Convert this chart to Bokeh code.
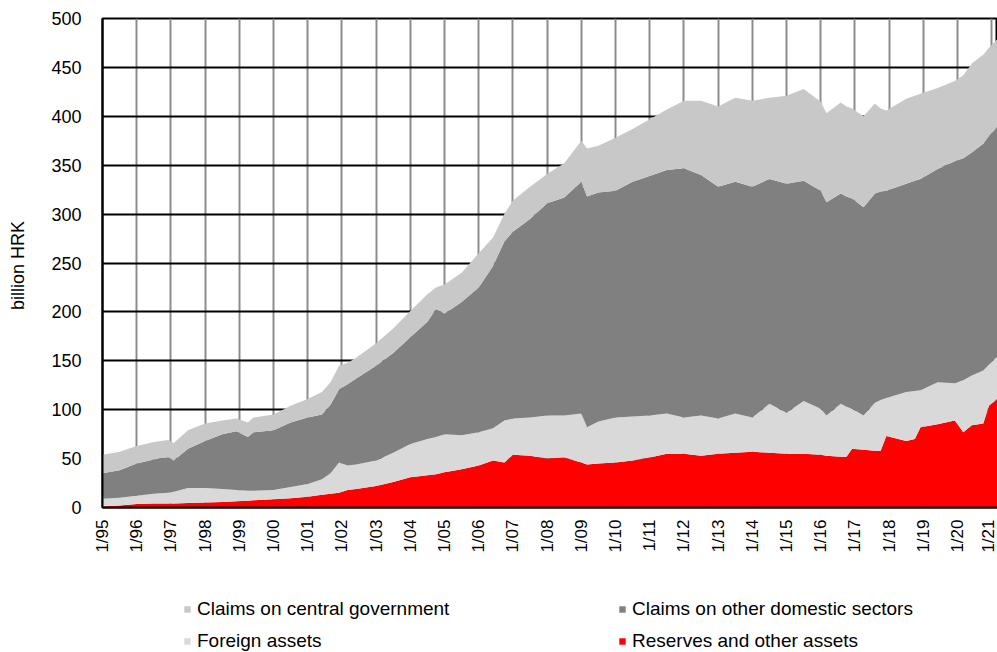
from bokeh.plotting import figure
from bokeh.models import FixedTicker, Legend, LegendItem, Range1d, ColumnDataSource
from bokeh.layouts import column
from bokeh.embed import file_html
from bokeh.resources import INLINE
import numpy as np

# ---- data (billion HRK) ----
dates = ["1995-01", "1995-07", "1996-01", "1996-07", "1996-12", "1997-02", "1997-07",
         "1998-01", "1998-07", "1998-12", "1999-04", "1999-06", "2000-01", "2000-07",
         "2001-01", "2001-06", "2001-09", "2001-12", "2002-03", "2002-06", "2003-01",
         "2003-07", "2004-01", "2004-07", "2004-10", "2005-01", "2005-07", "2006-01",
         "2006-06", "2006-10", "2007-01", "2007-07", "2008-01", "2008-07", "2009-01",
         "2009-03", "2009-07", "2010-01", "2010-07", "2011-01", "2011-07", "2012-01",
         "2012-07", "2013-01", "2013-07", "2014-01", "2014-07", "2015-01", "2015-07",
         "2016-01", "2016-03", "2016-08", "2016-10", "2016-12", "2017-04", "2017-08",
         "2017-10", "2017-12", "2018-07", "2018-10", "2018-12", "2019-06", "2019-12",
         "2020-03", "2020-06", "2020-10", "2020-12", "2021-03"]

reserves = [1, 2, 3.5, 4, 4, 4, 4.5, 5, 5.5, 6.5, 7, 7.5, 8.5, 9.5,
            11, 13, 14, 15, 18, 19, 22, 26, 31, 33, 34, 36, 39, 43,
            48, 46, 54, 53, 50, 51, 46, 44, 45, 46, 48, 51, 55, 55,
            53, 55, 56, 57, 56, 55, 55, 54, 53, 52, 52, 60, 59, 58,
            58, 73, 68, 70, 82, 85, 89, 77, 84, 86, 104, 111]

foreign_assets = [8, 8, 8.5, 10, 11, 12, 15.5, 15, 13.5, 11.5, 10, 9.5, 9.5, 11.5,
                  13, 16, 21, 31, 25, 25, 26, 30, 34, 37, 38, 39, 35, 34,
                  33, 43, 37, 39, 44, 43, 50, 38, 43, 46, 45, 43, 41, 37,
                  41, 36, 40, 35, 50, 42, 54, 47, 41, 54, 51, 41, 35, 49,
                  52, 39, 50, 49, 38, 43, 38, 53, 51, 54, 42, 44]

other_domestic = [26, 28, 33, 35, 36, 32, 40, 48, 56, 60, 55, 60, 61, 66,
                  68, 66, 70, 75, 83, 88, 97, 102, 109, 120, 131, 123, 136, 148,
                  166, 183, 191, 203, 217, 223, 237, 236, 234, 232, 240, 245, 249, 255,
                  246, 237, 237, 236, 230, 234, 225, 223, 218, 215, 215, 215, 213, 214,
                  213, 212, 213, 215, 216, 218, 227, 227, 228, 232, 234, 234]

central_government = [19, 19, 18, 18, 18, 18, 19, 18, 14, 13, 15, 15, 16, 17,
                       19, 23, 23, 24, 22, 21, 23, 25, 27, 28, 22, 30, 30, 35,
                       29, 28, 32, 33, 30, 35, 42, 49, 48, 54, 54, 58, 62, 69,
                       76, 82, 86, 88, 83, 90, 94, 91, 91, 93, 92, 92, 93, 92,
                       85, 82, 87, 87, 87, 83, 82, 85, 91, 91, 90, 90]

tick_years = list(range(1995, 2022))
tick_labels = ["1/95", "1/96", "1/97", "1/98", "1/99", "1/00", "1/01", "1/02", "1/03",
               "1/04", "1/05", "1/06", "1/07", "1/08", "1/09", "1/10", "1/11", "1/12",
               "1/13", "1/14", "1/15", "1/16", "1/17", "1/18", "1/19", "1/20", "1/21"]

series_names = ["Reserves and other assets", "Foreign assets",
                "Claims on other domestic sectors", "Claims on central government"]
colors = ["#ff0000", "#d9d9d9", "#808080", "#c8c8c8"]


def to_year(s):
    y, m = s.split("-")
    return int(y) + (int(m) - 1) / 12.0


x = [to_year(d) for d in dates]
source = ColumnDataSource(dict(x=x, reserves=reserves, foreign=foreign_assets,
                               domestic=other_domestic, central=central_government))

FONT = "Liberation Sans"

# ---------------- main chart ----------------
p = figure(width=997, height=560, output_backend="svg", toolbar_location=None,
           x_range=Range1d(1995, x[-1]), y_range=Range1d(0, 500),
           min_border_left=102, min_border_right=0, min_border_top=18,
           min_border_bottom=53)
p.background_fill_color = "white"
p.border_fill_color = "white"
p.outline_line_color = "black"
p.outline_line_width = 2

rs = p.varea_stack(["reserves", "foreign", "domestic", "central"], x="x",
                   color=colors, source=source)

p.xgrid.ticker = FixedTicker(ticks=tick_years)
p.xgrid.grid_line_color = "#8c8c8c"
p.xgrid.grid_line_width = 2
p.ygrid.ticker = FixedTicker(ticks=list(range(0, 501, 50)))
p.ygrid.grid_line_color = "black"
p.ygrid.grid_line_width = 2

p.xaxis.ticker = FixedTicker(ticks=tick_years)
p.xaxis.major_label_overrides = {yr: lab for yr, lab in zip(tick_years, tick_labels)}
p.xaxis.major_label_orientation = np.pi / 2
p.xaxis.major_tick_in = 0
p.xaxis.major_tick_out = 0
p.xaxis.minor_tick_line_color = None
p.xaxis.axis_line_color = "black"
p.xaxis.axis_line_width = 2
p.xaxis.major_label_standoff = 12
p.xaxis.major_label_text_font = FONT
p.xaxis.major_label_text_font_size = "17px"
p.xaxis.major_label_text_color = "black"

p.yaxis.ticker = FixedTicker(ticks=list(range(0, 501, 50)))
p.yaxis.major_tick_in = 0
p.yaxis.major_tick_out = 0
p.yaxis.minor_tick_line_color = None
p.yaxis.axis_line_color = "black"
p.yaxis.axis_line_width = 2
p.yaxis.major_label_standoff = 21
p.yaxis.major_label_text_font = FONT
p.yaxis.major_label_text_font_size = "18px"
p.yaxis.major_label_text_color = "black"
p.yaxis.axis_label = "billion  HRK"
p.yaxis.axis_label_text_font = FONT
p.yaxis.axis_label_text_font_size = "18px"
p.yaxis.axis_label_text_font_style = "normal"
p.yaxis.axis_label_text_color = "black"
p.yaxis.axis_label_standoff = 20

# ---------------- legend strip ----------------
lg = figure(width=997, height=92, output_backend="svg", toolbar_location=None,
            x_range=Range1d(0, 1), y_range=Range1d(0, 1),
            min_border_left=0, min_border_right=0, min_border_top=0,
            min_border_bottom=0, x_axis_type=None, y_axis_type=None)
lg.outline_line_color = None
lg.grid.visible = False
lg.background_fill_color = "white"
lg.border_fill_color = "white"

# zero-size swatch renderers (legend keys only)
dummy = {}
for name, col in zip(series_names, colors):
    dummy[name] = lg.varea(x=[0, 0], y1=[0, 0], y2=[0, 0], color=col)


def make_legend(names, loc):
    return Legend(items=[LegendItem(label=n, renderers=[dummy[n]], index=0) for n in names],
                  location=loc, orientation="vertical",
                  glyph_width=8, glyph_height=8, label_standoff=6,
                  padding=0, margin=0, spacing=10, label_height=21,
                  border_line_color=None, background_fill_alpha=0,
                  label_text_font=FONT, label_text_font_size="19px",
                  label_text_color="black")


lg.add_layout(make_legend([series_names[3], series_names[1]], (81, 0)), "center")
lg.add_layout(make_legend([series_names[2], series_names[0]], (516, 0)), "center")

layout = column(p, lg, spacing=0)

with open("out.html", "w") as f:
    f.write(file_html(layout, INLINE))
